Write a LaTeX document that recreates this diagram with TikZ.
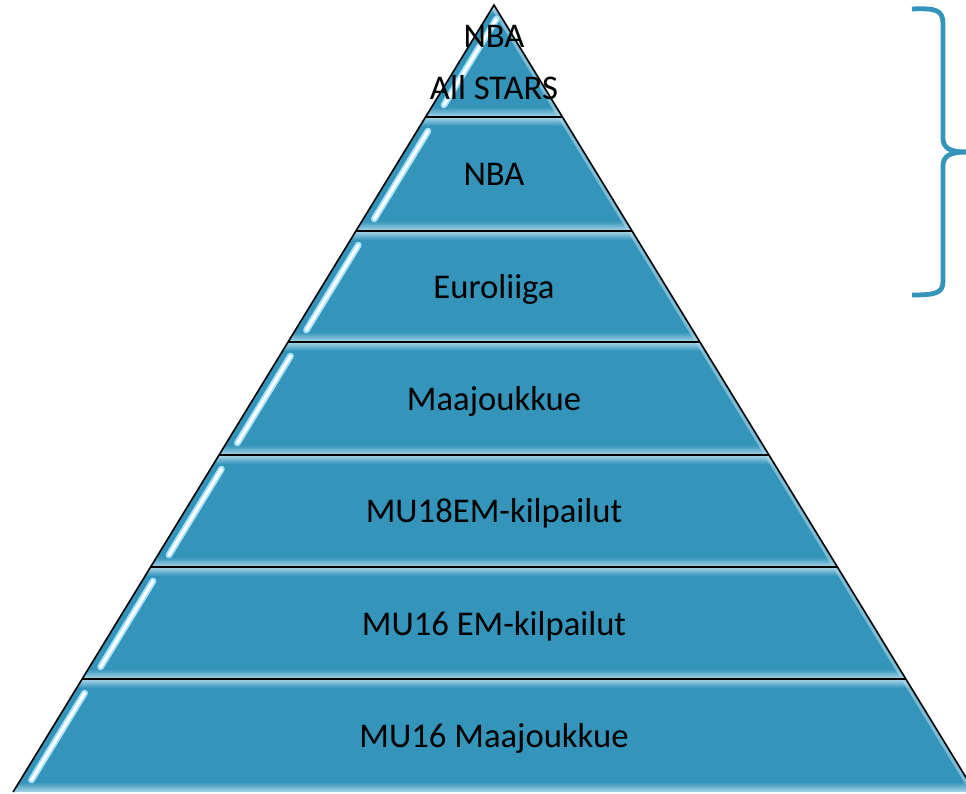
\documentclass[tikz,border=0pt]{standalone}
\usepackage{fontspec}
\setmainfont{Carlito}
\usetikzlibrary{calc}
\definecolor{pyrblue}{RGB}{52,148,186}
\definecolor{glow}{RGB}{170,215,232}
\tikzset{
  edge/.style={draw=black, line width=1.2pt},
  streakhalo/.style={line width=5pt, line cap=round, color=cyan!35!white},
  streak/.style={line width=2.2pt, line cap=round, color=white},
  brace/.style={draw=pyrblue, line width=3.6pt},
  lbl/.style={font=\fontsize{26}{31}\selectfont, inner sep=0pt, anchor=base}
}

\begin{document}
\begin{tikzpicture}[x=0.75pt,y=-0.75pt]
  \useasboundingbox (0,0) rectangle (966,793);
  \clip (0,0) rectangle (966,793);

  % layers of the pyramid
  \foreach \yt/\yb in {5/117,117/231,231/342,342/455,455/567,567/679,679/792}{
    \pgfmathsetmacro{\lt}{494-0.611*(\yt-5)}
    \pgfmathsetmacro{\rt}{494+0.611*(\yt-5)}
    \pgfmathsetmacro{\lb}{494-0.611*(\yb-5)}
    \pgfmathsetmacro{\rb}{494+0.611*(\yb-5)}
    \pgfmathsetmacro{\sa}{\yt+14} % streak ends
    \pgfmathsetmacro{\sb}{\yb-12}
    \pgfmathsetmacro{\xa}{494-0.611*(\sa-5)+11}
    \pgfmathsetmacro{\xb}{494-0.611*(\sb-5)+11}
    \begin{scope}
      \clip (\lt,\yt) -- (\rt,\yt) -- (\rb,\yb) -- (\lb,\yb) -- cycle;
      \fill[pyrblue] (0,\yt) rectangle (966,\yb);
      \shade[top color=glow, bottom color=pyrblue] (0,\yt) rectangle (966,\yt+9);
      \shade[top color=pyrblue, bottom color=glow] (0,\yb-10) rectangle (966,\yb);
      \draw[line width=6pt, glow, opacity=.6] (\rt,\yt) -- (\rb,\yb);
      \draw[streakhalo] (\xa,\sa) -- (\xb,\sb);
      \draw[streak] (\xa,\sa) -- (\xb,\sb);
    \end{scope}
  }

  % outline
  \draw[edge] (13.1,792) -- (494,5) -- (974.9,792);
  \foreach \y in {117,231,342,455,567,679}{
    \pgfmathsetmacro{\xl}{494-0.611*(\y-5)}
    \pgfmathsetmacro{\xr}{494+0.611*(\y-5)}
    \draw[edge] (\xl,\y) -- (\xr,\y);
  }

  % labels
  \node[lbl] (nbatop)   at (494,47)  {NBA};
  \node[lbl] (allstars) at (494,99)  {All STARS};
  \node[lbl] (nba)      at (494,185) {NBA};
  \node[lbl] (euro)     at (494,298) {Euroliiga};
  \node[lbl] (maa)      at (494,410) {Maajoukkue};
  \node[lbl] (mu18)     at (494,522) {MU18EM-kilpailut};
  \node[lbl] (mu16em)   at (494,635) {MU16 EM-kilpailut};
  \node[lbl] (mu16maa)  at (494,747) {MU16 Maajoukkue};

  % brace
  \coordinate (brtop) at (912,9);
  \coordinate (brmid) at (966,152);
  \coordinate (brbot) at (912,295);
  \draw[brace] (brtop) .. controls (936,8) and (943,10) .. (943,24) -- (943,138)
    .. controls (943,148) and (950,152) .. (brmid);
  \draw[brace] (brmid) .. controls (950,152) and (943,156) .. (943,166) -- (943,281)
    .. controls (943,293) and (936,295) .. (brbot);
\end{tikzpicture}
\end{document}
